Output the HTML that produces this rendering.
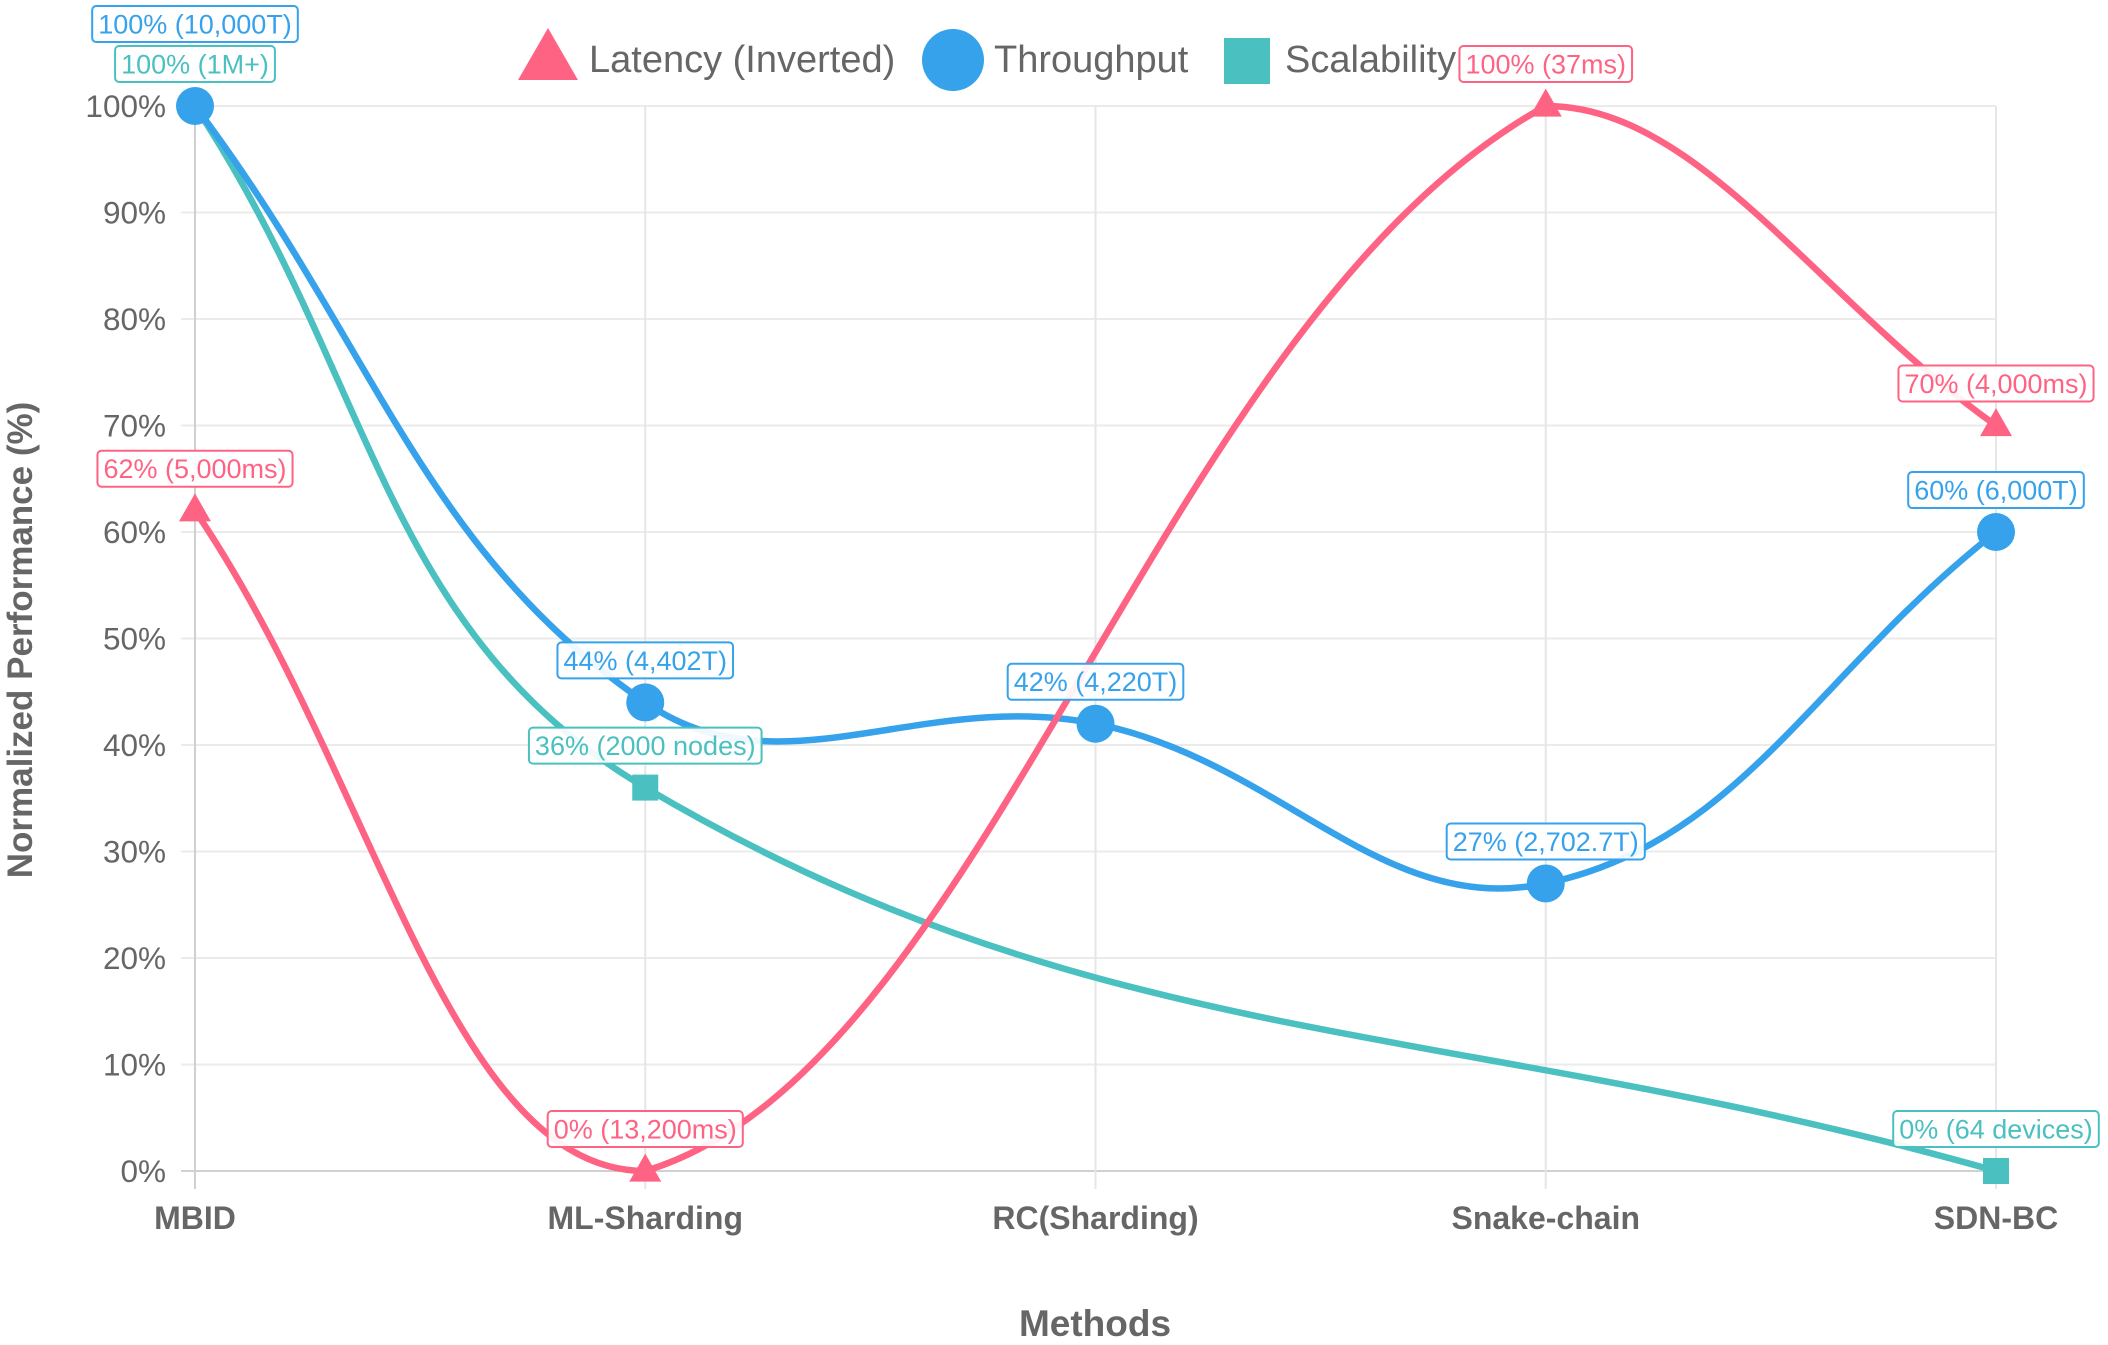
<!DOCTYPE html>
<html><head><meta charset="utf-8">
<style>
html,body{margin:0;padding:0;background:#fff;}
svg{display:block;font-family:"Liberation Sans",Arial,sans-serif;}
</style></head>
<body>
<svg id="chart" width="2108" height="1345" viewBox="0 0 2108 1345" xmlns="http://www.w3.org/2000/svg"></svg>
<script>
const categories = ["MBID","ML-Sharding","RC(Sharding)","Snake-chain","SDN-BC"];
const latencyValues = [62, 0, null, 100, 70];
const latencyLabels = ["62% (5,000ms)","0% (13,200ms)",null,"100% (37ms)","70% (4,000ms)"];
const throughputValues = [100, 44, 42, 27, 60];
const throughputLabels = ["100% (10,000T)","44% (4,402T)","42% (4,220T)","27% (2,702.7T)","60% (6,000T)"];
const scalabilityValues = [100, 36, null, null, 0];
const scalabilityLabels = ["100% (1M+)","36% (2000 nodes)",null,null,"0% (64 devices)"];
const yTicks = [0,10,20,30,40,50,60,70,80,90,100];

const svg = document.getElementById('chart');
const NS = 'http://www.w3.org/2000/svg';
const L = 195, R = 1996, T = 106, B = 1171;
function xScale(i){ return L + i*(R-L)/(categories.length-1); }
function yScale(v){ return B - v/100*(B-T); }
function mk(tag, attrs, parent){
  const e = document.createElementNS(NS, tag);
  for (const k in attrs) e.setAttribute(k, attrs[k]);
  (parent||svg).appendChild(e); return e;
}

const grid = mk('g',{});


yTicks.forEach(t=>{
  const y = yScale(t);
  mk('line',{x1:181,x2:R,y1:y,y2:y,stroke:t===0?'#d0d0d0':'#ebebeb','stroke-width':2},grid);
  const tx = mk('text',{x:166,y:y+11,'text-anchor':'end','font-size':31.5,fill:'#666'},grid);
  tx.textContent = t+'%';
  
  
});
categories.forEach((c,i)=>{
  const x = xScale(i);
  mk('line',{x1:x,x2:x,y1:T,y2:1189,stroke:i===0?'#d0d0d0':'#e6e6e6','stroke-width':2},grid);
  const tx = mk('text',{x:x,y:1229,'text-anchor':'middle','font-size':32,'font-weight':'bold',fill:'#666'},grid);
  tx.textContent = c;
  
  
});
const xt = mk('text',{x:1095,y:1336,'text-anchor':'middle','font-size':37,'font-weight':'bold',fill:'#666'});
xt.textContent='Methods';


const yt = mk('text',{x:0,y:0,'text-anchor':'middle','font-size':35,'font-weight':'bold',fill:'#666',transform:'translate(32,640) rotate(-90)'});
yt.textContent='Normalized Performance (%)';



function splinePath(vals){
  const pts=[]; vals.forEach((v,i)=>{ if(v!==null) pts.push([xScale(i),yScale(v)]); });
  const t=0.4; let d='M'+pts[0][0]+','+pts[0][1];
  const cps = pts.map((p,i)=>{
    const prev=pts[i-1]||p, next=pts[i+1]||p;
    const d01=Math.hypot(p[0]-prev[0],p[1]-prev[1]), d12=Math.hypot(next[0]-p[0],next[1]-p[1]);
    let fa=d01/(d01+d12||1), fb=d12/(d01+d12||1);
    fa=isNaN(fa)?0:fa*t; fb=isNaN(fb)?0:fb*t;
    const clampY=y=>Math.max(T,Math.min(B,y));
    return {prev:[p[0]-fa*(next[0]-prev[0]), clampY(p[1]-fa*(next[1]-prev[1]))],
            next:[p[0]+fb*(next[0]-prev[0]), clampY(p[1]+fb*(next[1]-prev[1]))]};
  });
  for(let i=1;i<pts.length;i++){
    d+=' C'+cps[i-1].next[0]+','+cps[i-1].next[1]+' '+cps[i].prev[0]+','+cps[i].prev[1]+' '+pts[i][0]+','+pts[i][1];
  }
  return d;
}

const series = [
  {name:'scalability', vals:scalabilityValues, labels:scalabilityLabels, color:'#4bc0c0', shape:'square'},
  {name:'throughput', vals:throughputValues, labels:throughputLabels, color:'#36a2eb', shape:'circle'},
  {name:'latency', vals:latencyValues, labels:latencyLabels, color:'#ff6384', shape:'triangle'}
];
function marker(shape,x,y,color,g,s){
  if(shape==='circle') return mk('circle',{cx:x,cy:y,r:19*s,fill:color},g);
  if(shape==='square') return mk('rect',{x:x-13*s,y:y-13*s,width:26*s,height:26*s,fill:color},g);
  const h=28*s, w=32*s;
  return mk('polygon',{points:`${x},${y-h*0.62} ${x-w/2},${y+h*0.38} ${x+w/2},${y+h*0.38}`,fill:color},g);
}
series.forEach(s=>{
  const g = mk('g',{});
  
  
  const p = mk('path',{d:splinePath(s.vals),fill:'none',stroke:s.color,'stroke-width':6.5,'stroke-linejoin':'round'},g);
  
  
  s.vals.forEach((v,i)=>{
    if(v===null) return;
    const m = marker(s.shape,xScale(i),yScale(v),s.color,g,1);
    
    
  });
});
function labelBox(text,cx,cy,color){
  const g = mk('g',{});
  
  
  const tx = mk('text',{x:cx,y:cy+9.5,'text-anchor':'middle','font-size':27,fill:color},g);
  tx.textContent=text;
  const w = tx.getComputedTextLength()+12;
  const r = mk('rect',{x:cx-w/2,y:cy-18,width:w,height:36,rx:4,fill:'#fff','fill-opacity':0.92,stroke:color,'stroke-width':2});
  g.insertBefore(r,tx);
}
series.forEach(s=>{
  s.labels.forEach((lab,i)=>{
    if(lab===null) return;
    let cy = yScale(s.vals[i]) - 42;
    if(s.name==='throughput' && i===0) cy = 24;
    labelBox(lab,xScale(i),cy,s.color);
  });
});

const lg = mk('g',{});


const legendItems = [
  {text:'Latency (Inverted)', color:'#ff6384', shape:'triangle', mx:548, tx:589},
  {text:'Throughput', color:'#36a2eb', shape:'circle', mx:953, tx:994},
  {text:'Scalability', color:'#4bc0c0', shape:'square', mx:1247, tx:1285}
];
legendItems.forEach(it=>{
  const g = mk('g',{},lg);
  
  
  if(it.shape==='circle') mk('circle',{cx:it.mx,cy:60,r:31,fill:it.color},g);
  else if(it.shape==='square') mk('rect',{x:it.mx-23,y:38,width:46,height:46,fill:it.color},g);
  else mk('polygon',{points:`${it.mx},28 ${it.mx-30},80 ${it.mx+30},80`,fill:it.color},g);
  const t = mk('text',{x:it.tx,y:72,'font-size':38,fill:'#666'},g);
  t.textContent = it.text;
});
</script>
</body></html>
